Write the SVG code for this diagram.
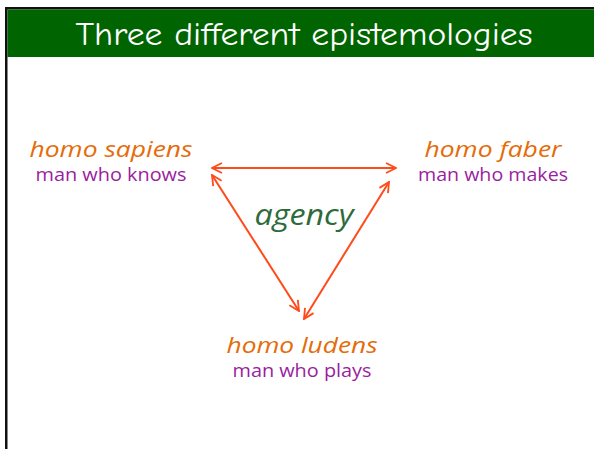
<svg xmlns="http://www.w3.org/2000/svg" width="594" height="449" viewBox="0 0 594 449">
<defs>
<marker id="ah" viewBox="0 0 12 12" refX="11" refY="6" markerWidth="12" markerHeight="12" markerUnits="userSpaceOnUse" orient="auto-start-reverse">
<path d="M1,1 L11,6 L1,11" fill="none" stroke="#FF4A1A" stroke-width="1.8"/>
</marker>
<style>
.t{font-family:"Open Sans","Noto Sans","Liberation Sans",sans-serif;text-anchor:middle}
.h{font-style:italic;fill:#E46C0A;font-size:22px}
.s{fill:#9A1E9E;font-size:17.5px}
.c{fill:none;stroke:#FF4A1A;stroke-width:2}
</style>
</defs>
<rect x="0" y="0" width="594" height="449" fill="#FFFFFF"/>
<rect x="5" y="7" width="589" height="2.5" fill="#111"/>
<rect x="5" y="7" width="2.5" height="442" fill="#111"/>
<rect x="7.5" y="9.5" width="586.5" height="47.5" fill="#006400"/>
<text x="304" y="45" class="t" style="font-family:'Comic Neue','Open Sans','Noto Sans',sans-serif;font-weight:400;fill:#FFFFFF;font-size:32px" textLength="457" lengthAdjust="spacingAndGlyphs">Three different epistemologies</text>
<g id="connectors">
<line class="c" x1="212" y1="168" x2="396" y2="168" marker-start="url(#ah)" marker-end="url(#ah)"/>
<line class="c" x1="212" y1="175" x2="299" y2="311" marker-start="url(#ah)" marker-end="url(#ah)"/>
<line class="c" x1="389" y1="182" x2="304" y2="319" marker-start="url(#ah)" marker-end="url(#ah)"/>
</g>
<g id="sapiens">
<text x="111" y="157" class="t h" textLength="163" lengthAdjust="spacingAndGlyphs">homo sapiens</text>
<text x="111" y="181" class="t s" textLength="151" lengthAdjust="spacingAndGlyphs">man who knows</text>
</g>
<g id="faber">
<text x="493" y="157" class="t h" textLength="137" lengthAdjust="spacingAndGlyphs">homo faber</text>
<text x="493" y="181" class="t s" textLength="150" lengthAdjust="spacingAndGlyphs">man who makes</text>
</g>
<g id="ludens">
<text x="302" y="353" class="t h" textLength="151" lengthAdjust="spacingAndGlyphs">homo ludens</text>
<text x="302" y="377" class="t s" textLength="139" lengthAdjust="spacingAndGlyphs">man who plays</text>
</g>
<g id="agency">
<text x="304" y="225" class="t" style="font-style:italic;fill:#2E6B3A;font-size:30px" textLength="99" lengthAdjust="spacingAndGlyphs">agency</text>
</g>
</svg>
